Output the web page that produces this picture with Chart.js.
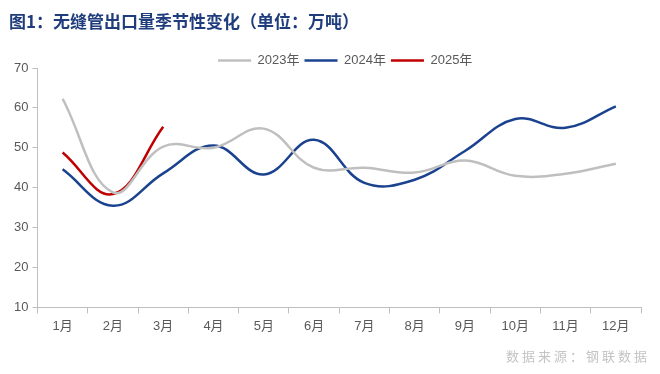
<!DOCTYPE html>
<html>
<head>
<meta charset="utf-8">
<script src="https://cdn.jsdelivr.net/npm/chart.js@4"></script>
<style>
  body { margin: 0; background: #fff; }
  #wrap { position: relative; width: 660px; height: 374px; }
  #chart { position: absolute; left: 0; top: 0; }
  #title {
    position: absolute; left: 9px; top: 8px;
    font: bold 17px "Noto Sans CJK SC", sans-serif; color: #1f3d7c;
  }
  #source {
    position: absolute; right: 10px; top: 346px;
    font: 13px "Noto Sans CJK SC", sans-serif; color: #c4c4c4; letter-spacing: 3px;
  }
</style>
</head>
<body>
<div id="wrap">
  <canvas id="chart" width="660" height="374"></canvas>
  <div id="title">图1：无缝管出口量季节性变化（单位：万吨）</div>
  <div id="source">数据来源：钢联数据</div>
</div>
<script>
// Data
const months = ["1月", "2月", "3月", "4月", "5月", "6月", "7月", "8月", "9月", "10月", "11月", "12月"];
const y2023 = [62.3, 38.8, 50.3, 50.0, 54.8, 45.0, 45.0, 43.8, 46.8, 43.0, 43.5, 46.0];
const y2024 = [44.6, 35.5, 43.6, 50.6, 43.3, 52.0, 41.2, 42.0, 49.2, 57.2, 55.0, 60.4];
const y2025 = [48.8, 38.4, 55.3];

// tighten the legend: less space under it, nudged a bit to the right
const legendTweak = {
  id: "legendTweak",
  beforeInit(chart) {
    const legend = chart.legend;
    const fit = legend.fit;
    legend.fit = function () {
      fit.call(this);
      this.height -= 9;
    };
    const draw = legend.draw;
    legend.draw = function () {
      const c = this.ctx;
      c.save();
      c.translate(6, 0);
      draw.call(this);
      c.restore();
    };
  },
};

const ctx = document.getElementById("chart");
new Chart(ctx, {
  type: "line",
  data: {
    labels: months,
    datasets: [
      { label: "2023年", data: y2023, borderColor: "#bfbfbf", backgroundColor: "#bfbfbf", borderWidth: 2.5 },
      { label: "2024年", data: y2024, borderColor: "#1a428f", backgroundColor: "#1a428f", borderWidth: 2.5 },
      { label: "2025年", data: y2025, borderColor: "#c00000", backgroundColor: "#c00000", borderWidth: 2.5 },
    ],
  },
  options: {
    responsive: false,
    animation: false,
    layout: { padding: { top: 49, left: 10, right: 19, bottom: 35 } },
    elements: {
      line: { tension: 0.4 },
      point: { radius: 0 },
    },
    plugins: {
      legend: {
        position: "top",
        fullSize: false,
        labels: {
          usePointStyle: true,
          pointStyle: "line",
          pointStyleWidth: 33,
          boxHeight: 13,
          padding: 5,
          color: "#595959",
          font: { size: 13, family: "'Liberation Sans', 'Noto Sans CJK SC', sans-serif" },
        },
      },
      tooltip: { enabled: false },
    },
    scales: {
      x: {
        offset: true,
        grid: { offset: true, drawOnChartArea: false, tickLength: 6, color: "#bfbfbf" },
        border: { color: "#bfbfbf" },
        ticks: { color: "#595959", padding: 5, font: { size: 13, family: "'Liberation Sans', 'Noto Sans CJK SC', sans-serif" } },
      },
      y: {
        min: 10,
        max: 70,
        ticks: { stepSize: 10, color: "#595959", padding: 4, font: { size: 13, family: "'Liberation Sans', sans-serif" } },
        grid: { drawOnChartArea: false, tickLength: 5, color: "#bfbfbf" },
        border: { color: "#bfbfbf" },
      },
    },
  },
  plugins: [legendTweak],
});
</script>
</body>
</html>
